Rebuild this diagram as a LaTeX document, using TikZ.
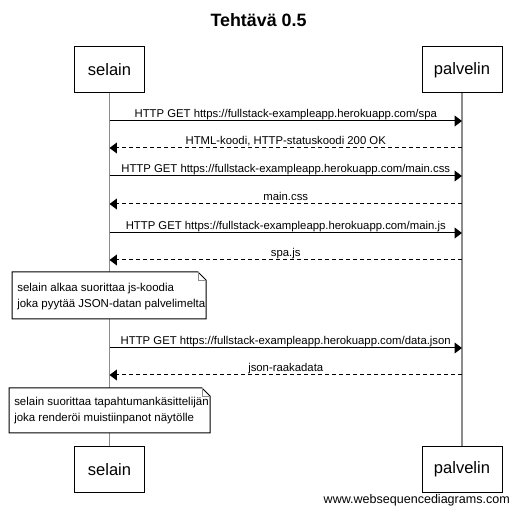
\documentclass[tikz,border=0pt]{standalone}
\usepackage{fontspec}
\setmainfont{Liberation Sans}
\usetikzlibrary{arrows.meta}
\definecolor{lifegray}{RGB}{140,140,140}
\begin{document}
\begin{tikzpicture}[x=0.75pt,y=-0.75pt,
  actor/.style={draw=black, line width=0.75pt, fill=white, minimum width=#1,
    minimum height=34.5pt, inner sep=0pt, font=\fontsize{12.4}{14}\selectfont},
  lifeline/.style={draw=lifegray, line width=0.9pt},
  msg/.style={draw=black, line width=0.75pt, -{Triangle[length=5.6pt,width=8.2pt]}},
  reply/.style={msg, dash pattern=on 3pt off 2.25pt},
  lbl/.style={font=\fontsize{8.5}{10}\selectfont, anchor=base, inner sep=0pt, yshift=2.25pt},
  notebox/.style={draw=black, line width=0.75pt, fill=white},
  fold/.style={draw=lifegray, line width=0.6pt},
  notetext/.style={font=\fontsize{8.6}{12}\selectfont, align=left, anchor=west, inner sep=0pt}
]
\useasboundingbox (0,0) rectangle (515,513);

% title
\node[font=\bfseries\fontsize{13.4}{16}\selectfont, anchor=base] (title) at (258.5,27) {Tehtävä 0.5};

% participants
\node[actor=52.5pt] (stop) at (109.5,70) {selain};
\node[actor=60pt]   (ptop) at (462,70)   {palvelin};
\node[actor=52.5pt] (sbot) at (109.5,469.5) {selain};
\node[actor=60pt]   (pbot) at (462,469.5)   {palvelin};

% lifelines
\draw[lifeline] (stop) -- (sbot);
\draw[lifeline] (ptop) -- (pbot);

% message end points on the lifelines
\foreach \i/\y in {1/121,2/148,3/176,4/204,5/233,6/260,7/348,8/375}{
  \coordinate (s\i) at (109.5,\y);
  \coordinate (p\i) at (462,\y);
}

% messages
\draw[msg] (s1) -- (p1) node[lbl, pos=0.5] (m1) {HTTP GET https://fullstack-exampleapp.herokuapp.com/spa};
\draw[reply] (p2) -- (s2) node[lbl, pos=0.5] (m2) {HTML-koodi, HTTP-statuskoodi 200 OK};
\draw[msg] (s3) -- (p3) node[lbl, pos=0.5] (m3) {HTTP GET https://fullstack-exampleapp.herokuapp.com/main.css};
\draw[reply] (p4) -- (s4) node[lbl, pos=0.5] (m4) {main.css};
\draw[msg] (s5) -- (p5) node[lbl, pos=0.5] (m5) {HTTP GET https://fullstack-exampleapp.herokuapp.com/main.js};
\draw[reply] (p6) -- (s6) node[lbl, pos=0.5] (m6) {spa.js};
\draw[msg] (s7) -- (p7) node[lbl, pos=0.5] (m7) {HTTP GET https://fullstack-exampleapp.herokuapp.com/data.json};
\draw[reply] (p8) -- (s8) node[lbl, pos=0.5] (m8) {json-raakadata};

% note 1
\draw[notebox] (12,272) -- (198,272) -- (206,280) -- (206,319) -- (12,319) -- cycle;
\draw[fold] (198,272) -- (198,280) -- (206,280);
\node[notetext] (n1) at (17,297) {selain alkaa suorittaa js-koodia\\joka pyytää JSON-datan palvelimelta};

% note 2
\draw[notebox] (9,388) -- (202,388) -- (210,396) -- (210,433) -- (9,433) -- cycle;
\draw[fold] (202,388) -- (202,396) -- (210,396);
\node[notetext] (n2) at (14,410.5) {selain suorittaa tapahtumankäsittelijän\\joka renderöi muistiinpanot näytölle};

% footer
\node[font=\fontsize{9.4}{11}\selectfont, anchor=base east, inner sep=0pt] (foot) at (510,504) {www.websequencediagrams.com};
\end{tikzpicture}
\end{document}
